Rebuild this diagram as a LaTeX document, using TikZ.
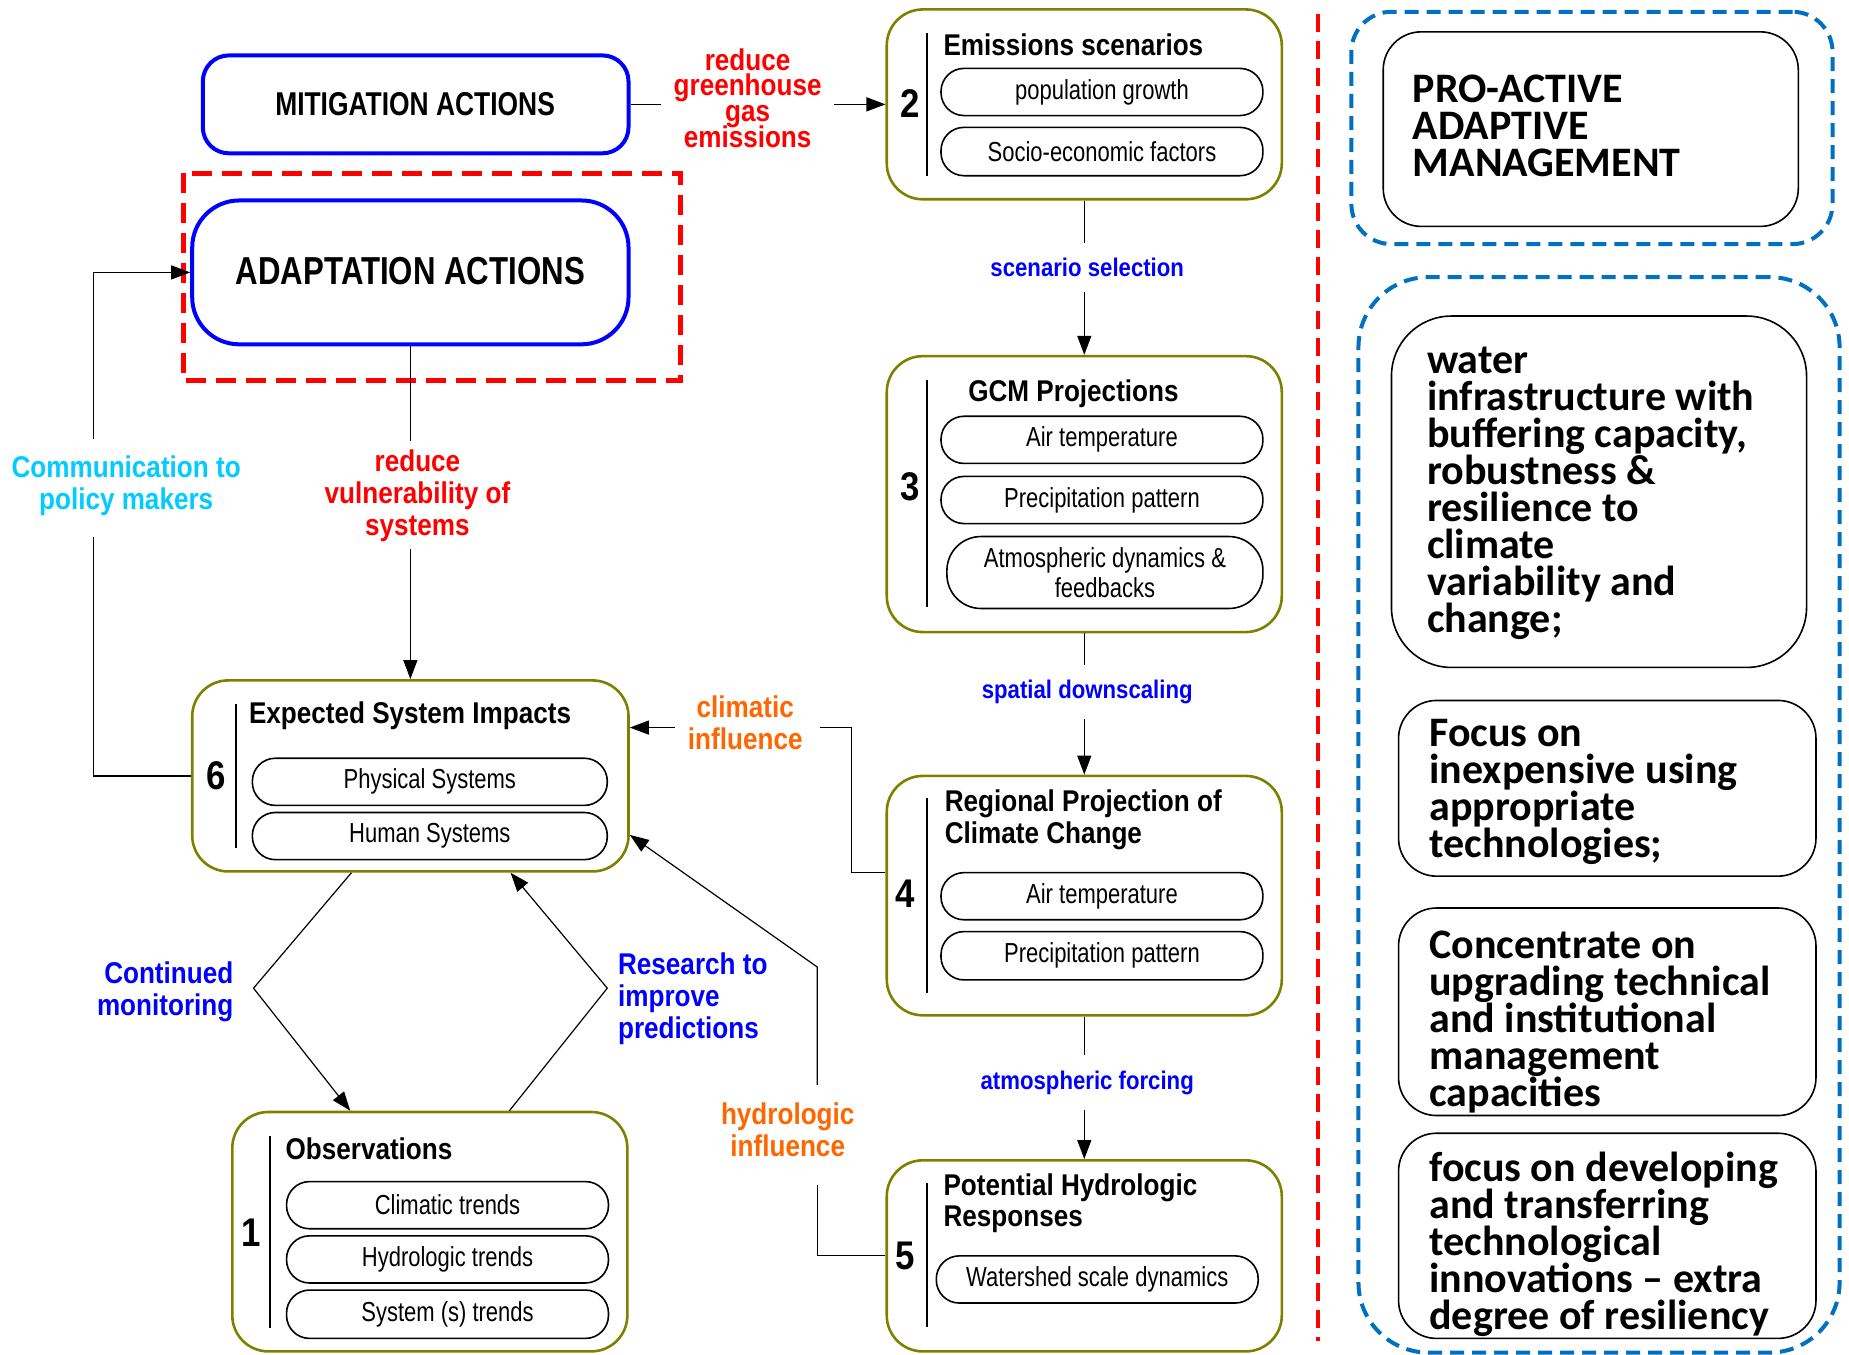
\documentclass[tikz,border=0pt]{standalone}
\usepackage{fontspec}
\setmainfont{Liberation Sans}
\newfontfamily\nar[FakeStretch=0.87]{Liberation Sans}
\newfontfamily\narp[FakeStretch=0.80]{Liberation Sans}
\newfontfamily\carl{Carlito}
\usetikzlibrary{arrows.meta,fit,calc}
\definecolor{olivec}{RGB}{128,128,0}
\definecolor{myblue}{RGB}{0,0,255}
\definecolor{myred}{RGB}{255,0,0}
\definecolor{mycyan}{RGB}{0,204,255}
\definecolor{myorange}{RGB}{255,102,0}
\definecolor{dblue}{RGB}{0,112,192}
\newcommand\tightls{\lineskiplimit=-100pt\relax}
\begin{document}
\begin{tikzpicture}[x=1.1792pt,y=-1.1792pt,
 ob/.style={draw=olivec, line width=2.6pt, rounded corners=36pt, inner sep=0pt},
 pill/.style={draw=black, line width=1.6pt, rounded corners=23pt, inner sep=0pt},
 bluebox/.style={draw=myblue, line width=4pt, inner sep=0pt},
 ttl/.style={font=\nar\bfseries\fontsize{30}{32}\selectfont\tightls, align=left, inner sep=0pt},
 ptxt/.style={font=\narp\fontsize{27.5}{30}\selectfont\tightls, align=center, inner sep=0pt},
 num/.style={font=\nar\bfseries\fontsize{40}{40}\selectfont, inner sep=0pt},
 lab/.style={font=\nar\bfseries\fontsize{30}{32}\selectfont\tightls, align=center},
 slab/.style={font=\nar\bfseries\fontsize{25.5}{26}\selectfont, text=myblue, inner xsep=4pt, inner ysep=15pt},
 conn/.style={line width=1.2pt, draw=black},
 arr/.style={conn, -{Triangle[length=19pt,width=14pt]}},
 rtxt/.style={font=\carl\bfseries\fontsize{42}{37}\selectfont\tightls, align=left, inner sep=0pt, anchor=north west},
 wbox/.style={draw=black, line width=1.6pt, inner sep=0pt},
 dbl/.style={draw=dblue, line width=4pt, dash pattern=on 14pt off 8pt, inner sep=0pt},
 vbar/.style={line width=1.5pt, draw=black}
]
\fill[white] (0,0) rectangle (1568,1149);
\useasboundingbox (0,0) rectangle (1568,1149);

% ---------- left: mitigation / adaptation
\node[bluebox, rounded corners=26pt, fit={(172,47) (533,130)}] (mit) {};
\node[font=\narp\bfseries\fontsize{33}{33}\selectfont] (mitt) at (352,88) {MITIGATION ACTIONS};
\draw[myred, line width=5pt, dash pattern=on 20pt off 10pt] (156,147) rectangle (577,323);
\node[bluebox, rounded corners=47pt, fit={(163,170) (533,292)}] (adapt) {};
\node[font=\narp\bfseries\fontsize{39}{39}\selectfont] (adt) at (348,230) {ADAPTATION ACTIONS};

% ---------- box 2
\node[ob, fit={(752,8) (1087,169)}] (b2) {};
\draw[vbar] (786,28) -- (786,149);
\node[num] (n2) at (772,88) {2};
\node[ttl, anchor=west] (t2) at (800,38) {Emissions scenarios};
\node[pill, fit={(798,58) (1071,98)}] (p21) {};
\node[ptxt] at (p21) {population growth};
\node[pill, fit={(798,108) (1071,149)}] (p22) {};
\node[ptxt] at (p22) {Socio-economic factors};

% ---------- box 3
\node[ob, fit={(752,302) (1087,536)}] (b3) {};
\draw[vbar] (786,322) -- (786,515);
\node[num] (n3) at (772,413) {3};
\node[ttl, anchor=west] (t3) at (821,334) {GCM Projections};
\node[pill, fit={(798,353) (1071,393)}] (p31) {};
\node[ptxt] at (p31) {Air temperature};
\node[pill, fit={(798,404) (1071,444)}] (p32) {};
\node[ptxt] at (p32) {Precipitation pattern};
\node[pill, rounded corners=34pt, fit={(803,455) (1071,516)}] (p33) {};
\node[ptxt, font=\narp\fontsize{27.5}{30.5}\selectfont\tightls] at (p33) {Atmospheric dynamics \&\\feedbacks};

% ---------- box 4
\node[ob, fit={(752,658) (1087,861)}] (b4) {};
\draw[vbar] (786,677) -- (786,842);
\node[num] (n4) at (768,758) {4};
\node[ttl, anchor=west] (t4) at (801,695) {Regional Projection of\\Climate Change};
\node[pill, fit={(798,740) (1071,780)}] (p41) {};
\node[ptxt] at (p41) {Air temperature};
\node[pill, fit={(798,790) (1071,831)}] (p42) {};
\node[ptxt] at (p42) {Precipitation pattern};

% ---------- box 5
\node[ob, fit={(752,984) (1087,1146)}] (b5) {};
\draw[vbar] (786,1003) -- (786,1125);
\node[num] (n5) at (768,1065) {5};
\node[ttl, anchor=west, font=\nar\bfseries\fontsize{30}{31}\selectfont\tightls] (t5) at (800,1020) {Potential Hydrologic\\Responses};
\node[pill, fit={(794,1065) (1067,1105)}] (p51) {};
\node[ptxt] at (p51) {Watershed scale dynamics};

% ---------- box 6
\node[ob, fit={(163,577) (533,739)}] (b6) {};
\draw[vbar] (200,597) -- (200,719);
\node[num] (n6) at (183,658) {6};
\node[ttl, anchor=west] (t6) at (211,607) {Expected System Impacts};
\node[pill, fit={(214,643) (515,683)}] (p61) {};
\node[ptxt] at (p61) {Physical Systems};
\node[pill, fit={(214,689) (515,729)}] (p62) {};
\node[ptxt] at (p62) {Human Systems};

% ---------- box 1
\node[ob, fit={(197,943) (532,1146)}] (b1) {};
\draw[vbar] (229,963) -- (229,1126);
\node[num] (n1) at (213,1045) {1};
\node[ttl, anchor=west] (t1) at (242,974) {Observations};
\node[pill, fit={(243,1002) (516,1042)}] (p11) {};
\node[ptxt] at (p11) {Climatic trends};
\node[pill, fit={(243,1048) (516,1088)}] (p12) {};
\node[ptxt] at (p12) {Hydrologic trends};
\node[pill, fit={(243,1094) (516,1135)}] (p13) {};
\node[ptxt] at (p13) {System (s) trends};

% ---------- labels
\node[lab, text=myred, font=\nar\bfseries\fontsize{30}{25.6}\selectfont\tightls, inner xsep=12pt, inner ysep=0pt] (lab1) at (634,83) {reduce\\greenhouse\\gas\\emissions};
\node[slab] (lab2) at (922,227) {scenario selection};
\node[slab] (lab3) at (922,587) {spatial downscaling};
\node[slab] (lab4) at (922,918) {atmospheric forcing};
\node[lab, text=myred, inner xsep=0pt, inner ysep=8pt] (labv) at (354,420) {reduce\\vulnerability of\\systems};
\node[lab, text=mycyan, inner sep=0pt] (labc) at (107,412) {Communication to\\policy makers};
\node[lab, text=myorange, inner sep=0pt] (labci) at (632,613) {climatic\\influence};
\node[lab, text=myorange, inner sep=0pt] (labh) at (668,958) {hydrologic\\influence};
\node[lab, text=myblue, align=right, anchor=east, inner sep=0pt] (labm) at (198,841) {Continued\\monitoring};
\node[lab, text=myblue, align=left, anchor=west, inner sep=0pt] (labr) at (524,847) {Research to\\improve\\predictions};

% ---------- connectors
\draw[conn] (mit.east) -- (mit.east -| lab1.west);
\draw[arr] (mit.east -| lab1.east) -- (b2.west |- mit.east);
\draw[conn] (b2.south) -- (b2.south |- lab2.north);
\draw[arr] (b2.south |- lab2.south) -- (b3.north);
\draw[conn] (b3.south) -- (b3.south |- lab3.north);
\draw[arr] (b3.south |- lab3.south) -- (b4.north);
\draw[conn] (b4.south) -- (b4.south |- lab4.north);
\draw[arr] (b4.south |- lab4.south) -- (b5.north);
\draw[conn] (adapt.south) -- (adapt.south |- labv.north);
\draw[arr] (adapt.south |- labv.south) -- (b6.north);

\coordinate (cA) at (79,455);
\coordinate (cB) at (79,372);
\draw[conn] (b6.west) -| (cA);
\draw[arr] (cB) |- (adapt.west);

\coordinate (c4a) at (722,740);
\coordinate (c4b) at (695,617);
\coordinate (c4c) at (572,617);
\draw[conn] (b4.west |- c4a) -- (c4a) |- (c4b);
\draw[arr] (c4c) -- (b6.east |- c4c);

\coordinate (c5a) at (693,1005);
\coordinate (c5b) at (693,920);
\coordinate (c5c) at (693,820);
\coordinate (c5d) at (600,708);
\draw[conn] (b5.west) -| (c5a);
\draw[arr] (c5b) -- (c5c) -- (b6.east |- c5d);

\coordinate (m0) at (298,0);
\coordinate (m1) at (215,838);
\coordinate (m2) at (297,0);
\draw[arr] (b6.south -| m0) -- (m1) -- (b1.north -| m2);
\coordinate (r0) at (432,0);
\coordinate (r1) at (515,838);
\coordinate (r2) at (433,0);
\draw[arr] (b1.north -| r0) -- (r1) -- (b6.south -| r2);

% ---------- right side
\draw[myred, line width=4pt, dash pattern=on 18pt off 9pt] (1118,12) -- (1118,1137);
\node[dbl, rounded corners=40pt, fit={(1146,10) (1554,207)}] (o1) {};
\node[wbox, rounded corners=38pt, fit={(1173,27) (1525,192)}] (i1) {};
\node[rtxt] (ti1) at (1198,63) {PRO-ACTIVE\\ADAPTIVE\\MANAGEMENT};
\node[dbl, rounded corners=70pt, fit={(1152,235) (1560,1147)}] (o2) {};
\node[wbox, rounded corners=60pt, fit={(1180,268) (1532,566)}] (i2) {};
\node[rtxt] (ti2) at (1210,294) {water\\infrastructure with\\buffering capacity,\\robustness \&\\resilience to\\climate\\variability and\\change;};
\node[wbox, rounded corners=38pt, fit={(1186,594) (1540,743)}] (i3) {};
\node[rtxt] (ti3) at (1212,610) {Focus on\\inexpensive using\\appropriate\\technologies;};
\node[wbox, rounded corners=38pt, fit={(1186,770) (1540,946)}] (i4) {};
\node[rtxt] (ti4) at (1212,789) {Concentrate on\\upgrading technical\\and institutional\\management\\capacities};
\node[wbox, rounded corners=38pt, fit={(1186,961) (1540,1135)}] (i5) {};
\node[rtxt] (ti5) at (1212,977) {focus on developing\\and transferring\\technological\\innovations – extra\\degree of resiliency};
\end{tikzpicture}
\end{document}
